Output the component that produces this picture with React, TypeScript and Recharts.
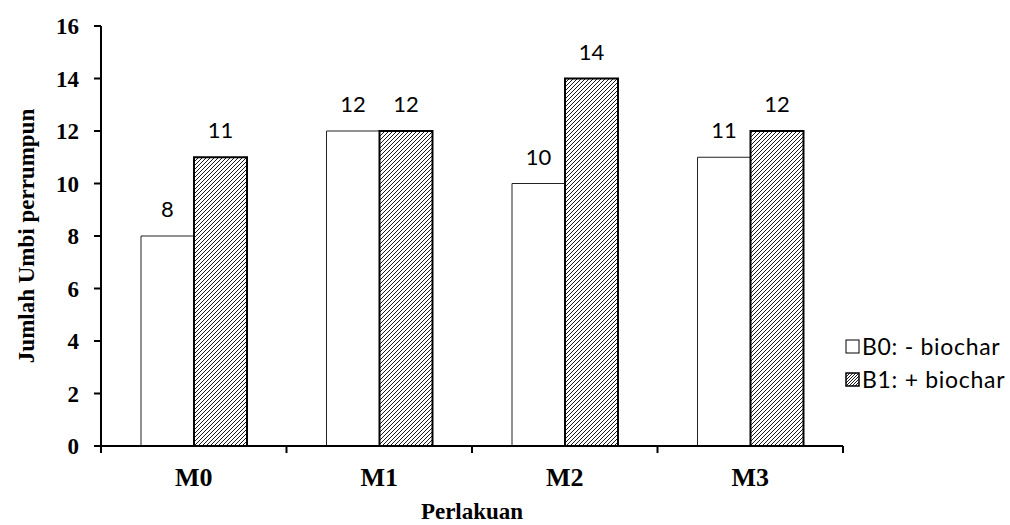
import React from 'react';
import { BarChart, Bar, XAxis, YAxis, LabelList, Legend, Label } from 'recharts';

// Jumlah umbi per rumpun, per perlakuan
const categories = ['M0', 'M1', 'M2', 'M3'];
const b0Values = [8, 12, 10, 11]; // B0: - biochar
const b1Values = [11, 12, 14, 12]; // B1: + biochar
const yTicks = [0, 2, 4, 6, 8, 10, 12, 14, 16];

const data = categories.map((name, i) => ({ name, b0: b0Values[i], b1: b1Values[i] }));

const serif = '"Liberation Serif", "Times New Roman", serif';
const sans = 'Lato, "Open Sans", sans-serif';

const legendItems = [
  { label: 'B0: - biochar', hatch: false },
  { label: 'B1: + biochar', hatch: true },
];

// category label + tick marks on the band edges (like Excel)
const CategoryTick = (props: any) => {
  const { x, y, payload, index, visibleTicksCount } = props;
  const half = payload && payload.offset ? payload.offset : 92.75;
  const last = index === visibleTicksCount - 1;
  return (
    <g>
      <line x1={x - half} x2={x - half} y1={y} y2={y + 7} stroke="#000" strokeWidth={2} />
      {last && <line x1={x + half} x2={x + half} y1={y} y2={y + 7} stroke="#000" strokeWidth={2} />}
      <text x={x} y={y + 40} textAnchor="middle" fontFamily={serif} fontWeight="bold" fontSize={26} fill="#000">
        {payload.value}
      </text>
    </g>
  );
};

const LegendBox = () => (
  <div style={{ fontFamily: sans, fontSize: 23, letterSpacing: 0.7, color: '#000', lineHeight: '33px' }}>
    {legendItems.map((it) => (
      <div key={it.label} style={{ display: 'flex', alignItems: 'center', whiteSpace: 'nowrap' }}>
        <svg width={16} height={16} style={{ marginRight: 1 }}>
          <rect x={1} y={1} width={13} height={13} fill={it.hatch ? 'url(#hatchLegend)' : '#fff'} stroke="#000" strokeWidth={it.hatch ? 1.5 : 1} />
          <defs>
            <pattern id="hatchLegend" width={3} height={3} patternUnits="userSpaceOnUse">
              <rect width={3} height={3} fill="#fff" />
              <path d="M-1,1 l2,-2 M0,3 l3,-3 M2,4 l2,-2" stroke="#000" strokeWidth={0.9} />
            </pattern>
          </defs>
        </svg>
        <span>{it.label}</span>
      </div>
    ))}
  </div>
);

export default function App() {
  return (
    <div style={{ position: 'absolute', left: 0, top: 0, width: 1010, height: 525, background: '#fff' }}>
      <BarChart
        width={1010}
        height={525}
        data={data}
        margin={{ top: 26, right: 167, left: 0, bottom: 0 }}
        barCategoryGap={40}
        barGap={0}
      >
        <defs>
          <pattern id="hatch" width={4} height={4} patternUnits="userSpaceOnUse">
            <rect width={4} height={4} fill="#fff" />
            <path d="M-1,1 l2,-2 M0,4 l4,-4 M3,5 l2,-2" stroke="#000" strokeWidth={0.9} />
          </pattern>
        </defs>
        <XAxis
          dataKey="name"
          height={79}
          axisLine={{ stroke: '#000', strokeWidth: 2 }}
          tickLine={false}
          tickSize={0}
          tickMargin={0}
          interval={0}
          tick={<CategoryTick />}
        >
          <Label
            value="Perlakuan"
            position="insideBottom"
            offset={6}
            style={{ fontFamily: serif, fontWeight: 'bold', fontSize: 23, fill: '#000' }}
          />
        </XAxis>
        <XAxis xAxisId="top" dataKey="name" orientation="top" height={0} tick={false} tickLine={false} axisLine={{ stroke: '#000', strokeWidth: 2 }} />
        <YAxis
          domain={[0, 16]}
          ticks={yTicks}
          width={101}
          interval={0}
          axisLine={{ stroke: '#000', strokeWidth: 2 }}
          tickLine={{ stroke: '#000', strokeWidth: 2 }}
          tickSize={7}
          tickMargin={15}
          tick={{ fontFamily: serif, fontWeight: 'bold', fontSize: 23, fill: '#000' }}
        >
          <Label
            value="Jumlah Umbi perrumpun"
            angle={-90}
            position="insideLeft"
            offset={26}
            style={{ textAnchor: 'middle', fontFamily: serif, fontWeight: 'bold', fontSize: 23, fill: '#000' }}
          />
        </YAxis>
        <YAxis yAxisId="right" orientation="right" width={0} domain={[0, 16]} tick={false} tickLine={false} axisLine={{ stroke: '#000', strokeWidth: 2 }} />
        <Legend
          layout="vertical"
          align="center"
          verticalAlign="middle"
          content={() => <LegendBox />}
          wrapperStyle={{ position: 'absolute', left: 845, top: 330, width: 165 }}
        />
        <Bar dataKey="b0" name="B0: - biochar" fill="#fff" stroke="#222" strokeWidth={1} isAnimationActive={false}>
          <LabelList dataKey="b0" position="top" offset={19} style={{ fontFamily: sans, fontSize: 22, fill: '#000' }} />
        </Bar>
        <Bar dataKey="b1" name="B1: + biochar" fill="url(#hatch)" stroke="#000" strokeWidth={2} isAnimationActive={false}>
          <LabelList dataKey="b1" position="top" offset={19} style={{ fontFamily: sans, fontSize: 22, fill: '#000' }} />
        </Bar>
      </BarChart>
    </div>
  );
}
